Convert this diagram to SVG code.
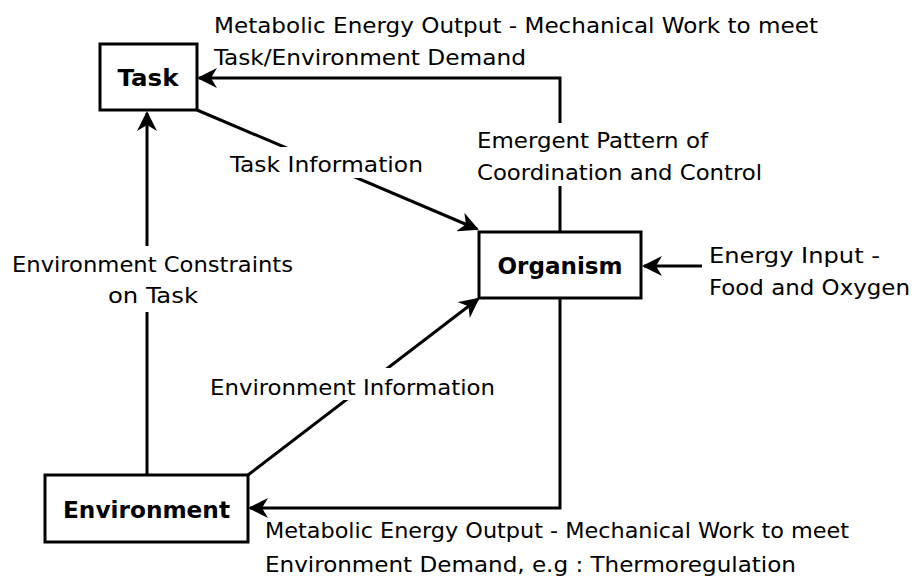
<svg xmlns="http://www.w3.org/2000/svg" width="913" height="578" viewBox="0 0 913 578">
<style>
.box{fill:#fff;stroke:#000;stroke-width:3}
.lbl{font-family:"DejaVu Sans Condensed","DejaVu Sans",Verdana,sans-serif;font-size:22px;fill:#000}
.nt{font-family:"DejaVu Sans",Verdana,sans-serif;font-size:23px;font-weight:bold;fill:#000;text-anchor:middle}
.ln{fill:none;stroke:#000;stroke-width:3}
.mask{fill:#fff}
</style>
<defs>
<marker id="ah" viewBox="0 0 20 20" refX="18" refY="10" markerWidth="20" markerHeight="20" markerUnits="userSpaceOnUse" orient="auto">
<path d="M0,0 L20,10 L0,20 L6,10 Z" fill="#000"/>
</marker>
</defs>
<rect width="913" height="578" fill="#fff"/>
<g id="connectors">
<path class="ln" d="M560,232 V78 H199" marker-end="url(#ah)"/>
<path class="ln" d="M197,110 L477,229" marker-end="url(#ah)"/>
<path class="ln" d="M147,475 V113" marker-end="url(#ah)"/>
<path class="ln" d="M248,475 L478,299" marker-end="url(#ah)"/>
<path class="ln" d="M702,266 H644" marker-end="url(#ah)"/>
<path class="ln" d="M560,298 V508 H250" marker-end="url(#ah)"/>
</g>
<g id="task">
<rect class="box" x="100" y="44" width="97" height="66"/>
<text class="nt" x="148" y="86" textLength="61" lengthAdjust="spacingAndGlyphs">Task</text>
</g>
<g id="organism">
<rect class="box" x="479" y="232" width="162" height="66"/>
<text class="nt" x="560" y="274" textLength="125" lengthAdjust="spacingAndGlyphs">Organism</text>
</g>
<g id="environment">
<rect class="box" x="45" y="475" width="203" height="67"/>
<text class="nt" x="146.5" y="518" textLength="167" lengthAdjust="spacingAndGlyphs">Environment</text>
</g>
<g id="labels">
<rect class="mask" x="226" y="147" width="200" height="31"/>
<rect class="mask" x="472" y="123" width="296" height="63"/>
<rect class="mask" x="8" y="246" width="290" height="66"/>
<rect class="mask" x="206" y="368" width="293" height="32"/>
<text class="lbl" x="214" y="33" textLength="604" lengthAdjust="spacingAndGlyphs">Metabolic Energy Output - Mechanical Work to meet</text>
<text class="lbl" x="214" y="65" textLength="312" lengthAdjust="spacingAndGlyphs">Task/Environment Demand</text>
<text class="lbl" x="230" y="172" textLength="193" lengthAdjust="spacingAndGlyphs">Task Information</text>
<text class="lbl" x="477" y="148" textLength="231" lengthAdjust="spacingAndGlyphs">Emergent Pattern of</text>
<text class="lbl" x="477" y="180" textLength="285" lengthAdjust="spacingAndGlyphs">Coordination and Control</text>
<text class="lbl" x="12" y="272" textLength="281" lengthAdjust="spacingAndGlyphs">Environment Constraints</text>
<text class="lbl" x="108" y="303" textLength="90" lengthAdjust="spacingAndGlyphs">on Task</text>
<text class="lbl" x="709" y="263" textLength="171" lengthAdjust="spacingAndGlyphs">Energy Input -</text>
<text class="lbl" x="709" y="295" textLength="201" lengthAdjust="spacingAndGlyphs">Food and Oxygen</text>
<text class="lbl" x="210" y="395" textLength="285" lengthAdjust="spacingAndGlyphs">Environment Information</text>
<text class="lbl" x="265" y="538" textLength="584" lengthAdjust="spacingAndGlyphs">Metabolic Energy Output - Mechanical Work to meet</text>
<text class="lbl" x="265" y="572" textLength="531" lengthAdjust="spacingAndGlyphs">Environment Demand, e.g : Thermoregulation</text>
</g>
</svg>
